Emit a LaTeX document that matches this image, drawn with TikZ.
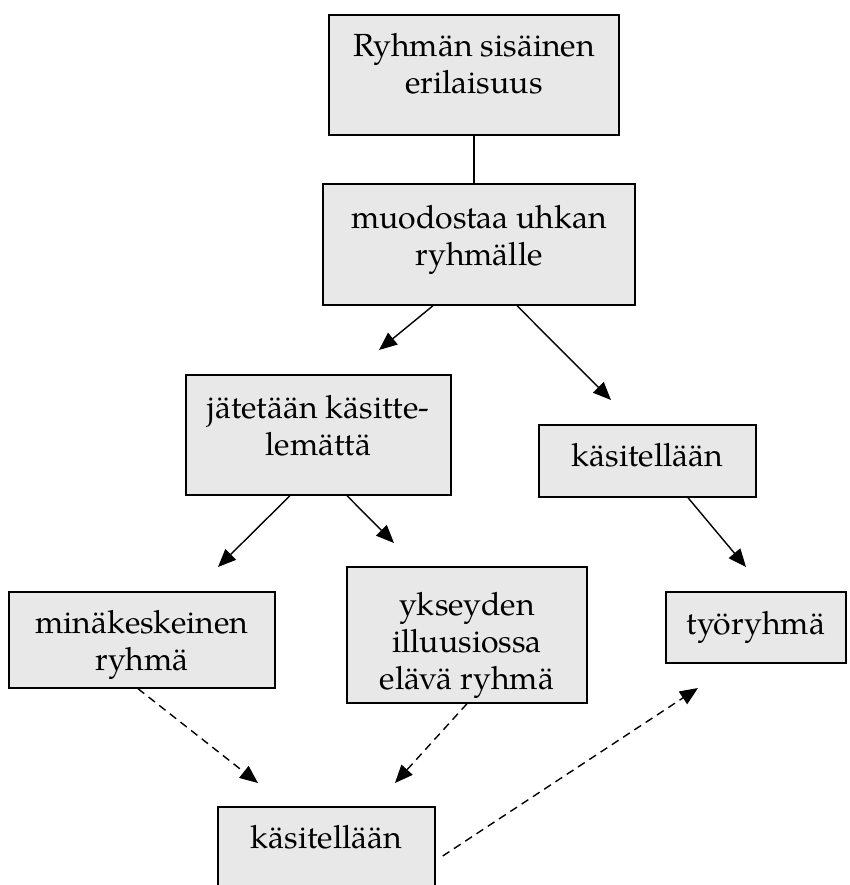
\documentclass[tikz,border=0pt]{standalone}
\usepackage{fontspec}
\setmainfont{TeX Gyre Pagella}
\usepackage{tikz}
\usetikzlibrary{arrows.meta,calc}
\definecolor{boxgray}{RGB}{232,232,232}
\tikzset{>={Triangle[length=9pt,width=7.5pt]}}
\tikzset{
  box/.style={draw,fill=boxgray,line width=0.7pt,align=center,inner sep=0pt,
    font=\fontsize{16}{18.5}\selectfont},
  conn/.style={line width=0.7pt},
  dashconn/.style={line width=0.7pt,dash pattern=on 4pt off 2.75pt}
}

\begin{document}
\begin{tikzpicture}[x=0.5pt,y=-0.5pt]
  \useasboundingbox (0,0) rectangle (850,885);
  \clip (0,0) rectangle (850,885);
  % boxes
  \node[box,minimum width=145pt,minimum height=60pt,text height=30pt,text depth=12pt] at (474,75) (b1) {Ryhmän sisäinen\\erilaisuus};
  \node[box,minimum width=156pt,minimum height=60.5pt,text height=30pt,text depth=9.5pt] at (479,244.5) (b2) {muodostaa uhkan\\ryhmälle};
  \node[box,minimum width=132.5pt,minimum height=60pt,text height=30pt,text depth=10pt] at (318.5,435) (b3) {jätetään käsitte-\\lemättä};
  \node[box,minimum width=108.5pt,minimum height=36pt,text height=11.5pt,text depth=6.5pt] at (647.5,461) (b4) {käsitellään};
  \node[box,minimum width=133pt,minimum height=48pt,text height=30pt,text depth=0pt] at (142,640) (b5) {minäkeskeinen\\ryhmä};
  \node[box,minimum width=120pt,minimum height=68pt,text height=54pt,text depth=0pt] at (467,635) (b6) {ykseyden\\illuusiossa\\elävä ryhmä};
  \node[box,minimum width=90pt,minimum height=35.5pt] at (756,627.5) (b7) {työryhmä};
  \node[box,minimum width=108.5pt,minimum height=49pt,text height=11.5pt,text depth=19.5pt] at (326.5,856) (b8) {käsitellään};
  % free arrow ends
  \coordinate (t2l) at (379,350);
  \coordinate (t2r) at (611,400);
  \coordinate (t3l) at (218,567);
  \coordinate (t3r) at (394,543);
  \coordinate (t4) at (746,567);
  \coordinate (t5) at (258,783);
  \coordinate (t6) at (395,783);
  \coordinate (t8) at (698,688);
  % connectors
  \draw[conn] (b1.south) -- (b1.south |- b2.north);
  \draw[conn,->] ($(b2.south)+(-46,0)$) -- (t2l);
  \draw[conn,->] ($(b2.south)+(38,0)$) -- (t2r);
  \draw[conn,->] ($(b3.south)+(-28.5,0)$) -- (t3l);
  \draw[conn,->] ($(b3.south)+(28.5,0)$) -- (t3r);
  \draw[conn,->] ($(b4.south)+(40.5,0)$) -- (t4);
  \draw[dashconn,->] ($(b5.south)+(-4,0)$) -- (t5);
  \draw[dashconn,->] (b6.south) -- (t6);
  \draw[dashconn,->] ($(b8.east)+(7,0)$) -- (t8);
\end{tikzpicture}
\end{document}
